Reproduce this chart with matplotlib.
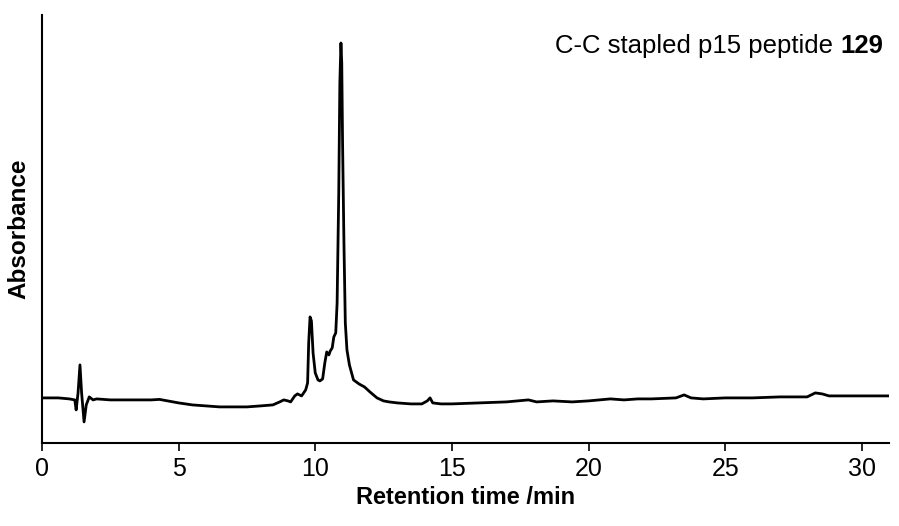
import matplotlib
matplotlib.use("Agg")
import matplotlib.pyplot as plt

plt.rcParams['font.family'] = ['Liberation Sans', 'DejaVu Sans']

# retention time (min) and absorbance (arbitrary units)
time = [0.0, 0.6, 1.0, 1.2, 1.25, 1.32, 1.39, 1.45, 1.54, 1.62, 1.73, 1.87,
        2.0, 2.5, 3.0, 3.5, 4.0, 4.3, 4.6, 5.0, 5.5, 6.0, 6.5, 7.0, 7.5,
        8.0, 8.45, 8.7, 8.85, 9.0, 9.1, 9.25, 9.35, 9.5, 9.65, 9.72, 9.76,
        9.81, 9.86, 9.92, 10.0, 10.1, 10.17, 10.27, 10.35, 10.42, 10.5,
        10.55, 10.62, 10.68, 10.75, 10.8, 10.86, 10.9, 10.94, 10.97, 11.0,
        11.05, 11.1, 11.16, 11.25, 11.4, 11.6, 11.8, 12.0, 12.26, 12.5,
        12.7, 13.0, 13.5, 13.9, 14.1, 14.2, 14.3, 14.6, 15.0, 16.0, 17.0,
        17.8, 18.1, 18.7, 19.4, 20.0, 20.8, 21.3, 21.8, 22.3, 23.2, 23.5,
        23.75, 24.2, 25.0, 26.0, 27.0, 28.0, 28.3, 28.55, 28.8, 29.5, 30.2,
        31.0]
absorbance = [45, 45, 44, 43, 33, 50, 78, 50, 21, 38, 46, 43,
              44, 43, 43, 43, 43, 43.5, 42, 40, 38, 37, 36, 36, 36,
              37, 38, 41, 43, 42, 41, 47, 49, 47, 53, 60, 100,
              126, 122, 90, 70, 63, 62, 64, 80, 91, 88,
              92, 95, 106, 110, 140, 250, 360, 400, 380, 300,
              200, 120, 93, 78, 63, 59, 56, 51, 45, 42,
              41, 40, 39, 39, 42, 45, 40, 39, 39, 40, 41,
              43, 41, 42, 41, 42, 44, 43, 44, 44, 45, 48,
              45, 44, 45, 45, 46, 46, 50, 49, 47, 47, 47,
              47]

fig = plt.figure(figsize=(8.99, 5.26), dpi=100)
ax = fig.add_axes([0.0467, 0.158, 0.9423, 0.8135])

ax.plot(time, absorbance, color='black', lw=2.0, solid_joinstyle='round')

ax.set_xlim(0, 31)
ax.set_ylim(0, 428)
ax.set_xticks([0, 5, 10, 15, 20, 25, 30])
ax.set_yticks([])
ax.spines['top'].set_visible(False)
ax.spines['right'].set_visible(False)
for s in ['left', 'bottom']:
    ax.spines[s].set_linewidth(1.5)
ax.tick_params(axis='x', direction='out', length=6, width=1.2, labelsize=18, pad=4)

ax.set_xlabel("Retention time /min", fontsize=17, fontweight='bold', labelpad=4)
ax.set_ylabel("Absorbance", fontsize=17.5, fontweight='bold', labelpad=8)

num = ax.text(0.993, 0.9, "129", transform=ax.transAxes, ha='right', va='bottom',
              fontsize=18.5, fontweight='bold')
ax.annotate("C-C stapled p15 peptide ", xy=(0, 0), xycoords=num, ha='right', va='bottom',
            fontsize=18.5)

fig.savefig("out.png", dpi=100)
